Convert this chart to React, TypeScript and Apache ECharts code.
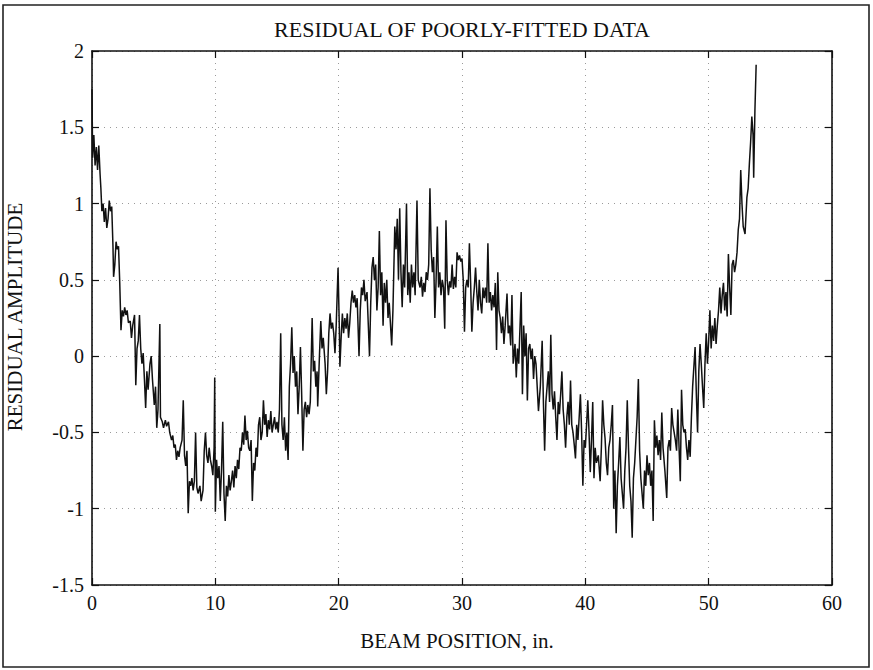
import React, { useEffect, useRef } from "react";
import * as echarts from "echarts";

const TITLE = "RESIDUAL OF POORLY-FITTED DATA";
const X_NAME = "BEAM POSITION, in.";
const Y_NAME = "RESIDUAL AMPLITUDE";

const X_MIN = 0;
const X_MAX = 60;
const X_STEP = 10;
const Y_MIN = -1.5;
const Y_MAX = 2;
const Y_STEP = 0.5;

// residual readings [position (in.), amplitude], by span of beam position
const span0to10: number[][] = [
  [0, 1.75], [0.05, 1.3], [0.15, 1.45], [0.25, 1.25], [0.35, 1.37], [0.45, 1.22], [0.55, 1.38], [0.65, 1.2],
  [0.72, 1.1], [0.8, 0.95], [0.9, 1.0], [1.0, 0.88], [1.1, 0.97], [1.2, 0.84], [1.3, 0.9], [1.4, 1.02],
  [1.5, 0.95], [1.6, 0.98], [1.7, 0.72], [1.75, 0.52], [1.85, 0.6], [1.95, 0.75], [2.05, 0.7], [2.15, 0.72],
  [2.25, 0.48], [2.35, 0.17], [2.45, 0.3], [2.55, 0.26], [2.65, 0.32], [2.75, 0.27], [2.85, 0.3], [2.95, 0.22],
  [3.1, 0.23], [3.2, 0.12], [3.3, 0.2], [3.45, 0.27], [3.55, -0.19], [3.65, 0.05], [3.75, 0.1], [3.85, 0.27],
  [3.95, 0.05], [4.05, -0.05], [4.15, 0.02], [4.25, -0.15], [4.35, -0.34], [4.45, -0.1], [4.55, -0.22], [4.7, -0.05],
  [4.8, 0.0], [4.9, -0.15], [5.05, -0.32], [5.15, -0.2], [5.25, -0.47], [5.35, -0.35], [5.5, 0.21], [5.55, -0.4],
  [5.7, -0.43], [5.8, -0.47], [5.95, -0.42], [6.05, -0.46], [6.2, -0.43], [6.3, -0.5], [6.45, -0.55], [6.55, -0.52],
  [6.65, -0.6], [6.75, -0.58], [6.85, -0.68], [6.95, -0.62], [7.05, -0.66], [7.15, -0.6], [7.3, -0.55], [7.4, -0.29],
  [7.5, -0.65], [7.6, -0.72], [7.7, -0.62], [7.8, -1.03], [7.9, -0.82], [8.0, -0.85], [8.1, -0.8], [8.2, -0.88],
  [8.3, -0.82], [8.4, -0.5], [8.5, -0.86], [8.6, -0.9], [8.75, -0.85], [8.85, -0.95], [9.0, -0.88], [9.1, -0.62],
  [9.2, -0.5], [9.3, -0.65], [9.4, -0.7], [9.5, -0.6], [9.6, -0.68], [9.7, -0.72], [9.8, -0.78], [9.9, -0.6],
  [9.95, -0.14], [10.0, -1.02],
];

const span10to20: number[][] = [
  [10.1, -0.68], [10.2, -0.8], [10.3, -0.72], [10.4, -0.95], [10.5, -0.75], [10.6, -0.43], [10.7, -0.9], [10.8, -1.08],
  [10.9, -0.85], [11.0, -0.92], [11.1, -0.78], [11.2, -0.88], [11.3, -0.82], [11.4, -0.75], [11.5, -0.86], [11.6, -0.72],
  [11.7, -0.8], [11.8, -0.68], [11.9, -0.74], [12.0, -0.6], [12.1, -0.62], [12.2, -0.5], [12.3, -0.58], [12.4, -0.39],
  [12.5, -0.55], [12.6, -0.49], [12.7, -0.6], [12.8, -0.62], [12.9, -0.55], [13.0, -0.95], [13.1, -0.7], [13.2, -0.75],
  [13.3, -0.6], [13.4, -0.66], [13.5, -0.45], [13.6, -0.4], [13.7, -0.55], [13.8, -0.5], [13.9, -0.29], [14.0, -0.45],
  [14.1, -0.38], [14.2, -0.53], [14.3, -0.42], [14.4, -0.48], [14.5, -0.36], [14.6, -0.5], [14.7, -0.45], [14.8, -0.4],
  [14.9, -0.48], [15.0, -0.43], [15.1, -0.5], [15.2, -0.35], [15.3, 0.15], [15.4, -0.45], [15.5, -0.55], [15.6, -0.4],
  [15.7, -0.62], [15.8, -0.5], [15.9, -0.68], [16.0, -0.2], [16.1, -0.05], [16.2, 0.19], [16.3, -0.11], [16.4, 0.0],
  [16.5, -0.2], [16.6, -0.1], [16.7, -0.38], [16.8, -0.2], [16.9, 0.06], [17.0, -0.25], [17.1, -0.62], [17.2, -0.35],
  [17.3, -0.3], [17.4, -0.4], [17.5, -0.32], [17.6, -0.38], [17.7, -0.3], [17.85, 0.25], [17.95, -0.1], [18.05, -0.03],
  [18.15, -0.2], [18.25, -0.1], [18.3, -0.33], [18.45, 0.02], [18.55, 0.23], [18.65, 0.05], [18.75, 0.12], [18.9, -0.05],
  [19.0, -0.25], [19.1, -0.1], [19.2, 0.15], [19.3, 0.28], [19.4, 0.18], [19.5, 0.22], [19.6, 0.15], [19.7, 0.02],
  [19.8, 0.2], [19.95, 0.58], [20.05, 0.2],
];

const span20to30: number[][] = [
  [20.1, -0.07], [20.2, 0.12], [20.3, 0.28], [20.4, 0.15], [20.5, 0.25], [20.6, 0.18], [20.7, 0.28], [20.8, 0.12],
  [20.9, 0.22], [21.0, 0.35], [21.1, 0.43], [21.2, 0.35], [21.3, 0.4], [21.4, 0.32], [21.5, 0.38], [21.65, 0.0],
  [21.75, 0.3], [21.85, 0.45], [21.95, 0.4], [22.05, 0.5], [22.15, 0.36], [22.3, 0.42], [22.5, 0.0], [22.6, 0.35],
  [22.7, 0.58], [22.8, 0.65], [22.9, 0.5], [23.0, 0.6], [23.1, 0.3], [23.2, 0.45], [23.3, 0.82], [23.4, 0.4],
  [23.5, 0.55], [23.6, 0.2], [23.7, 0.48], [23.8, 0.35], [23.9, 0.5], [24.0, 0.25], [24.1, 0.35], [24.3, 0.07],
  [24.4, 0.3], [24.55, 0.85], [24.65, 0.7], [24.75, 0.9], [24.85, 0.5], [24.95, 0.97], [25.05, 0.55], [25.15, 0.32],
  [25.25, 0.6], [25.35, 0.45], [25.5, 1.0], [25.6, 0.4], [25.7, 0.55], [25.8, 0.35], [25.9, 0.6], [26.0, 0.45],
  [26.1, 0.55], [26.2, 0.4], [26.35, 1.02], [26.45, 0.5], [26.6, 0.45], [26.7, 0.52], [26.8, 0.39], [26.9, 0.48],
  [27.0, 0.42], [27.1, 0.55], [27.2, 0.5], [27.3, 0.6], [27.4, 1.1], [27.5, 0.7], [27.6, 0.55], [27.7, 0.65],
  [27.8, 0.25], [27.9, 0.5], [28.0, 0.85], [28.1, 0.45], [28.2, 0.55], [28.3, 0.4], [28.4, 0.5], [28.5, 0.45],
  [28.6, 0.18], [28.7, 0.89], [28.8, 0.5], [28.9, 0.4], [29.0, 0.49], [29.1, 0.45], [29.2, 0.6], [29.3, 0.44],
  [29.4, 0.52], [29.5, 0.45], [29.6, 0.68], [29.7, 0.63], [29.8, 0.66], [29.9, 0.62], [30.0, 0.64], [30.1, 0.5],
];

const span30to40: number[][] = [
  [30.2, 0.16], [30.3, 0.45], [30.4, 0.5], [30.5, 0.45], [30.6, 0.74], [30.7, 0.48], [30.8, 0.16], [30.9, 0.35],
  [31.0, 0.45], [31.1, 0.58], [31.2, 0.42], [31.3, 0.3], [31.4, 0.5], [31.5, 0.35], [31.6, 0.28], [31.7, 0.45],
  [31.8, 0.38], [31.9, 0.45], [32.0, 0.35], [32.1, 0.74], [32.2, 0.35], [32.3, 0.42], [32.4, 0.3], [32.5, 0.4],
  [32.6, 0.32], [32.7, 0.48], [32.8, 0.04], [32.9, 0.55], [33.0, 0.3], [33.1, 0.25], [33.2, 0.15], [33.3, 0.26],
  [33.4, 0.08], [33.5, 0.2], [33.65, 0.41], [33.75, 0.15], [33.85, 0.2], [33.95, 0.07], [34.05, 0.4], [34.15, -0.05],
  [34.3, 0.08], [34.4, -0.14], [34.5, 0.05], [34.6, -0.05], [34.8, 0.42], [34.9, -0.25], [35.0, 0.2], [35.1, 0.0],
  [35.2, 0.15], [35.3, -0.29], [35.4, 0.05], [35.5, 0.08], [35.6, -0.02], [35.7, 0.05], [35.8, -0.15], [35.9, 0.0],
  [36.0, -0.05], [36.2, -0.36], [36.35, -0.2], [36.5, 0.1], [36.6, -0.3], [36.7, -0.62], [36.8, -0.3], [36.9, -0.2],
  [37.0, -0.1], [37.1, -0.3], [37.2, 0.14], [37.3, -0.25], [37.4, -0.35], [37.5, -0.23], [37.6, -0.4], [37.7, -0.55],
  [37.8, -0.3], [37.9, -0.38], [38.0, -0.25], [38.1, -0.1], [38.2, -0.35], [38.3, -0.45], [38.4, -0.6], [38.5, -0.4],
  [38.6, -0.3], [38.7, -0.45], [38.8, -0.16], [38.9, -0.45], [39.0, -0.5], [39.1, -0.58], [39.2, -0.67], [39.3, -0.45],
  [39.4, -0.55], [39.5, -0.4], [39.6, -0.25], [39.7, -0.5], [39.8, -0.85], [39.9, -0.55], [40.0, -0.6],
];

const span40to50: number[][] = [
  [40.1, -0.45], [40.2, -0.29], [40.3, -0.5], [40.4, -0.76], [40.5, -0.55], [40.6, -0.3], [40.7, -0.8], [40.8, -0.6],
  [40.9, -0.7], [41.05, -0.65], [41.2, -0.82], [41.3, -0.6], [41.4, -0.29], [41.5, -0.45], [41.6, -0.54], [41.7, -0.7],
  [41.8, -0.78], [41.9, -0.6], [42.0, -0.55], [42.1, -0.45], [42.2, -0.32], [42.3, -1.0], [42.4, -0.75], [42.5, -1.16],
  [42.6, -0.85], [42.7, -0.7], [42.8, -0.53], [42.9, -0.8], [43.0, -0.9], [43.1, -1.0], [43.2, -0.75], [43.3, -0.6],
  [43.4, -0.29], [43.5, -0.6], [43.6, -0.85], [43.7, -0.95], [43.8, -1.19], [43.9, -0.8], [44.0, -0.7], [44.1, -0.55],
  [44.2, -0.4], [44.3, -0.15], [44.4, -0.62], [44.5, -0.8], [44.6, -0.9], [44.7, -1.0], [44.8, -0.75], [44.9, -0.85],
  [45.0, -0.65], [45.1, -0.78], [45.2, -0.7], [45.3, -0.85], [45.4, -0.75], [45.5, -1.08], [45.6, -0.42], [45.7, -0.6],
  [45.8, -0.52], [45.9, -0.65], [46.0, -0.55], [46.1, -0.68], [46.2, -0.37], [46.3, -0.6], [46.45, -0.75], [46.6, -0.93],
  [46.7, -0.6], [46.8, -0.55], [46.9, -0.62], [47.0, -0.34], [47.1, -0.45], [47.2, -0.5], [47.3, -0.55], [47.4, -0.62],
  [47.5, -0.35], [47.6, -0.6], [47.7, -0.82], [47.8, -0.22], [47.9, -0.45], [48.0, -0.5], [48.1, -0.48], [48.2, -0.6],
  [48.3, -0.68], [48.4, -0.55], [48.5, -0.66], [48.6, -0.4], [48.7, -0.2], [48.8, -0.07], [48.9, 0.06], [49.0, -0.25],
  [49.1, -0.5], [49.2, -0.1], [49.3, 0.08], [49.4, -0.05], [49.5, -0.2], [49.6, -0.34], [49.7, -0.05], [49.8, 0.15],
  [49.9, -0.05], [50.0, 0.1],
];

const span50to54: number[][] = [
  [50.1, 0.3], [50.2, 0.05], [50.3, 0.2], [50.4, 0.1], [50.5, 0.25], [50.6, 0.08], [50.7, 0.2], [50.8, 0.3],
  [50.9, 0.45], [51.0, 0.28], [51.1, 0.4], [51.2, 0.48], [51.3, 0.3], [51.4, 0.42], [51.5, 0.26], [51.6, 0.67],
  [51.7, 0.45], [51.8, 0.27], [51.9, 0.6], [52.0, 0.63], [52.1, 0.55], [52.2, 0.6], [52.3, 0.68], [52.4, 0.83],
  [52.5, 0.9], [52.6, 1.22], [52.7, 1.0], [52.8, 0.85], [52.95, 0.8], [53.1, 1.04], [53.2, 1.1], [53.3, 1.26],
  [53.4, 1.4], [53.5, 1.57], [53.6, 1.45], [53.65, 1.17], [53.75, 1.61], [53.85, 1.91],
];

const residual = [...span0to10, ...span10to20, ...span20to30, ...span30to40, ...span40to50, ...span50to54];

const SERIF = "Liberation Serif";

export default function App() {
  const ref = useRef<HTMLDivElement>(null);

  useEffect(() => {
    document.body.style.margin = "0";
    if (!ref.current) return;
    const chart = echarts.init(ref.current, null, { renderer: "svg" });
    const gridLine = { show: true, lineStyle: { color: "#9a9a9a", width: 1, type: [1, 5] as any } };
    const axisLine = { show: true, onZero: false, lineStyle: { color: "#111", width: 1.6 } };
    const axisTick = { show: true, inside: true, length: 7, lineStyle: { color: "#111", width: 1.2 } };
    const tickText = { color: "#111", fontFamily: SERIF, fontSize: 20 };
    chart.setOption({
      animation: false,
      backgroundColor: "#fff",
      textStyle: { fontFamily: SERIF, fontSize: 20 },
      grid: { left: 92, right: 41, top: 51, bottom: 85, containLabel: false },
      xAxis: [
        {
          type: "value", min: X_MIN, max: X_MAX, interval: X_STEP, position: "bottom",
          axisLine, axisTick, splitLine: gridLine,
          axisLabel: { ...tickText, margin: 8 },
        },
        {
          type: "value", min: X_MIN, max: X_MAX, interval: X_STEP, position: "top",
          axisLine, axisTick, splitLine: { show: false }, axisLabel: { show: false },
        },
      ],
      yAxis: [
        {
          type: "value", min: Y_MIN, max: Y_MAX, interval: Y_STEP, position: "left",
          axisLine, axisTick, splitLine: gridLine,
          axisLabel: { ...tickText, margin: 8 },
        },
        {
          type: "value", min: Y_MIN, max: Y_MAX, interval: Y_STEP, position: "right",
          axisLine, axisTick, splitLine: { show: false }, axisLabel: { show: false },
        },
      ],
      graphic: [
        {
          type: "rect", silent: true, z: 100,
          shape: { x: 3, y: 5, width: 866, height: 662 },
          style: { fill: "none", stroke: "#222", lineWidth: 1.6 },
        },
        {
          type: "text", x: 462, y: 29,
          style: { text: TITLE, align: "center", verticalAlign: "middle", fill: "#111", font: `22px ${SERIF}` },
        },
        {
          type: "text", x: 457, y: 641,
          style: { text: X_NAME, align: "center", verticalAlign: "middle", fill: "#111", font: `21px ${SERIF}` },
        },
        {
          type: "text", x: 15, y: 317, rotation: Math.PI / 2,
          style: { text: Y_NAME, align: "center", verticalAlign: "middle", fill: "#111", font: `21px ${SERIF}` },
        },
      ],
      series: [
        {
          type: "line",
          xAxisIndex: 0,
          yAxisIndex: 0,
          data: residual,
          showSymbol: false,
          symbol: "none",
          lineStyle: { color: "#111", width: 1.5 },
          clip: true,
        },
      ],
    });
    return () => chart.dispose();
  }, []);

  return (
    <div
      ref={ref}
      style={{ position: "absolute", left: 0, top: 0, width: 873, height: 670 }}
    />
  );
}
